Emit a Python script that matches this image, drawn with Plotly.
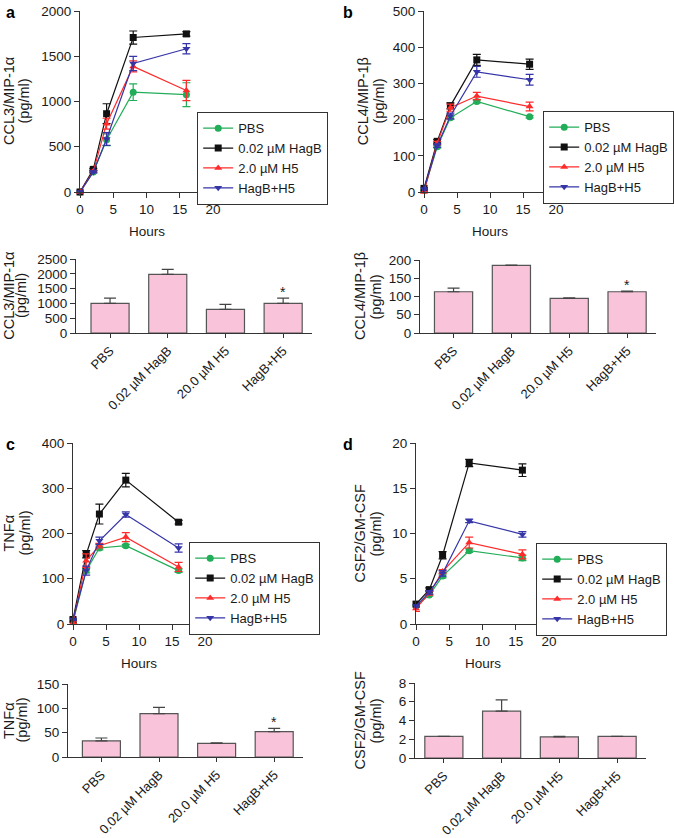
import plotly.graph_objects as go

W, H = 674, 838
hours = [0, 2, 4, 8, 16]
series_names = ["PBS", "0.02 µM HagB", "2.0 µM H5", "HagB+H5"]
bar_labels = ["PBS", "0.02 µM HagB", "20.0 µM H5", "HagB+H5"]

# panel a: CCL3/MIP-1α
a_pbs = [0, 220, 578, 1103, 1075]
a_pbs_err = [0, 10, 65, 92, 132]
a_hagb = [0, 250, 865, 1707, 1747]
a_hagb_err = [0, 10, 110, 72, 25]
a_h5 = [0, 228, 755, 1388, 1122]
a_h5_err = [0, 10, 60, 60, 112]
a_combo = [0, 222, 585, 1420, 1583]
a_combo_err = [0, 10, 70, 78, 57]
a_bar = [1000, 1980, 800, 1000]
a_bar_err = [180, 170, 170, 180]

# panel b: CCL4/MIP-1β
b_pbs = [5, 125, 205, 250, 208]
b_pbs_err = [2, 3, 4, 4, 3]
b_hagb = [10, 140, 238, 365, 353]
b_hagb_err = [2, 5, 8, 15, 14]
b_h5 = [0, 135, 233, 265, 236]
b_h5_err = [2, 5, 10, 10, 12]
b_combo = [8, 128, 210, 332, 310]
b_combo_err = [2, 5, 8, 15, 15]
b_bar = [113, 185, 95, 113]
b_bar_err = [10, 1, 1, 2]

# panel c: TNFα
c_pbs = [5, 118, 168, 173, 118]
c_pbs_err = [2, 5, 4, 3, 4]
c_hagb = [10, 154, 243, 318, 225]
c_hagb_err = [2, 8, 22, 15, 4]
c_h5 = [3, 140, 173, 192, 126]
c_h5_err = [2, 15, 5, 10, 10]
c_combo = [10, 118, 184, 242, 168]
c_combo_err = [2, 10, 8, 6, 9]
c_bar = [33, 89, 28, 52]
c_bar_err = [6, 13, 1, 7]

# panel d: CSF2/GM-CSF
d_pbs = [2.0, 3.2, 5.3, 8.1, 7.3]
d_pbs_err = [0.1, 0.1, 0.2, 0.2, 0.3]
d_hagb = [2.2, 3.8, 7.6, 17.8, 17.0]
d_hagb_err = [0.1, 0.2, 0.4, 0.4, 0.7]
d_h5 = [1.7, 3.4, 5.8, 9.0, 7.7]
d_h5_err = [0.3, 0.2, 0.2, 0.6, 0.5]
d_combo = [2.0, 3.5, 5.6, 11.4, 9.9]
d_combo_err = [0.1, 0.2, 0.3, 0.2, 0.3]
d_bar = [2.3, 5.0, 2.25, 2.3]
d_bar_err = [0, 1.2, 0.05, 0]

colors = ["#22ad58", "#111111", "#ff2b2b", "#3535a8"]
symbols = ["circle", "square", "triangle-up", "triangle-down"]
FONT = "Liberation Sans, Arial, sans-serif"

panels = [
    dict(letter="a", ytitle=["CCL3/MIP-1α", "(pg/ml)"],
         lines=[(a_pbs, a_pbs_err), (a_hagb, a_hagb_err), (a_h5, a_h5_err), (a_combo, a_combo_err)],
         yr=[0, 2000], dt=500, bar=a_bar, bar_err=a_bar_err, byr=[0, 2500], bdt=500, star=True,
         line_px=(80, 213, 11, 192), bar_px=(76, 312, 259, 333), bar_start=-0.59,
         leg=(197, 112), ytx=(9.5, 24), bytx=(8.7, 21), letter_xy=(4, 2)),
    dict(letter="b", ytitle=["CCL4/MIP-1β", "(pg/ml)"],
         lines=[(b_pbs, b_pbs_err), (b_hagb, b_hagb_err), (b_h5, b_h5_err), (b_combo, b_combo_err)],
         yr=[0, 500], dt=100, bar=b_bar, bar_err=b_bar_err, byr=[0, 200], bdt=50, star=True,
         line_px=(424, 556, 11, 192), bar_px=(420, 656, 260, 333), bar_start=-0.58,
         leg=(543, 111), ytx=(363.7, 379), bytx=(359.5, 375), letter_xy=(341, 2)),
    dict(letter="c", ytitle=["TNFα", "(pg/ml)"],
         lines=[(c_pbs, c_pbs_err), (c_hagb, c_hagb_err), (c_h5, c_h5_err), (c_combo, c_combo_err)],
         yr=[0, 400], dt=100, bar=c_bar, bar_err=c_bar_err, byr=[0, 150], bdt=50, star=True,
         line_px=(73, 205, 443, 624), bar_px=(68, 303, 684, 757), bar_start=-0.58,
         leg=(189, 542), ytx=(8, 24), bytx=(8.5, 21), letter_xy=(4, 434)),
    dict(letter="d", ytitle=["CSF2/GM-CSF", "(pg/ml)"],
         lines=[(d_pbs, d_pbs_err), (d_hagb, d_hagb_err), (d_h5, d_h5_err), (d_combo, d_combo_err)],
         yr=[0, 20], dt=5, bar=d_bar, bar_err=d_bar_err, byr=[0, 8], bdt=2, star=False,
         line_px=(416, 549, 443, 624), bar_px=(415, 646, 683, 758), bar_start=-0.5,
         leg=(536, 543), ytx=(359, 375), bytx=(359, 375), letter_xy=(341, 434)),
]

fig = go.Figure()
layout = dict(width=W, height=H, margin=dict(l=0, r=0, t=0, b=0, autoexpand=False),
              paper_bgcolor="white", plot_bgcolor="white",
              font=dict(family=FONT, size=13, color="#1a1a1a"),
              showlegend=True, annotations=[])

def fx(px):
    return px / W

def fy(py):
    return 1 - py / H

axis_common = dict(showline=True, linecolor="#333", linewidth=1.2, ticks="outside",
                   ticklen=5, tickcolor="#333", tickwidth=1.2, showgrid=False, zeroline=False,
                   automargin=False,
                   tickfont=dict(family=FONT, size=13.5, color="#1a1a1a"))

def ytitle_annots(lines, xs, yc):
    out = []
    for txt, xc in zip(lines, xs):
        out.append(dict(text=txt, xref="paper", yref="paper", x=fx(xc), y=fy(yc),
                        textangle=-90, xanchor="center", yanchor="middle", showarrow=False,
                        font=dict(family=FONT, size=14.5)))
    return out

for i, p in enumerate(panels):
    ln = 2 * i + 1
    bn = 2 * i + 2
    legname = "legend" if i == 0 else f"legend{i+1}"
    x0, x1, y0, y1 = p["line_px"]
    layout[f"xaxis{ln}"] = dict(axis_common, domain=[fx(x0), fx(x1)], range=[0, 20], dtick=5,
                                anchor=f"y{ln}")
    layout[f"yaxis{ln}"] = dict(axis_common, domain=[fy(y1), fy(y0)], range=p["yr"], dtick=p["dt"],
                                anchor=f"x{ln}")
    for k, (vals, errs) in enumerate(p["lines"]):
        fig.add_trace(go.Scatter(
            x=hours, y=vals, name=series_names[k], mode="lines+markers",
            line=dict(color=colors[k], width=1.2),
            marker=dict(symbol=symbols[k], size=7, color=colors[k]),
            error_y=dict(type="data", array=errs, color=colors[k], thickness=1.2, width=4),
            xaxis=f"x{ln}", yaxis=f"y{ln}", cliponaxis=False, legend=legname))
    lx, ly = p["leg"]
    layout[legname] = dict(x=fx(lx), y=fy(ly), xanchor="left", yanchor="top",
                           bordercolor="#333", borderwidth=1.2, bgcolor="white",
                           font=dict(family=FONT, size=13, color="#1a1a1a"),
                           tracegroupgap=0, itemwidth=30)
    layout["annotations"].append(dict(text="Hours", xref="paper", yref="paper",
                                      x=fx((x0 + x1) / 2), y=fy(y1 + 39), xanchor="center",
                                      yanchor="middle", showarrow=False,
                                      font=dict(family=FONT, size=13.5)))
    layout["annotations"].extend(ytitle_annots(p["ytitle"], p["ytx"], (y0 + y1) / 2))
    layout["annotations"].append(dict(text=f"<b>{p['letter']}</b>", xref="paper", yref="paper",
                                      x=fx(p["letter_xy"][0]), y=fy(p["letter_xy"][1]),
                                      xanchor="left", yanchor="top", showarrow=False,
                                      font=dict(family=FONT, size=16, color="black")))
    bx0, bx1, by0, by1 = p["bar_px"]
    layout[f"xaxis{bn}"] = dict(axis_common, domain=[fx(bx0), fx(bx1)],
                                range=[p["bar_start"], 3.5], tickangle=-45, ticklen=4,
                                tickmode="array", tickvals=[0, 1, 2, 3], ticktext=bar_labels,
                                tickfont=dict(family=FONT, size=13, color="#1a1a1a"),
                                anchor=f"y{bn}")
    layout[f"yaxis{bn}"] = dict(axis_common, domain=[fy(by1), fy(by0)], range=p["byr"],
                                dtick=p["bdt"], anchor=f"x{bn}")
    fig.add_trace(go.Bar(
        x=[0, 1, 2, 3], y=p["bar"], width=0.66, showlegend=False,
        marker=dict(color="#f9c3d9", line=dict(color="#555", width=1.2)),
        error_y=dict(type="data", array=p["bar_err"], arrayminus=[0, 0, 0, 0],
                     color="#444", thickness=1.2, width=6),
        xaxis=f"x{bn}", yaxis=f"y{bn}"))
    layout["annotations"].extend(ytitle_annots(p["ytitle"], p["bytx"], (by0 + by1) / 2))
    if p["star"]:
        layout["annotations"].append(dict(text="*", xref=f"x{bn}", yref=f"y{bn}",
                                          x=3, y=p["bar"][3] + p["bar_err"][3],
                                          xanchor="center", yanchor="bottom", yshift=-4,
                                          showarrow=False, font=dict(family=FONT, size=14)))

fig.update_layout(**layout)
fig.write_html("out.html", config={"displayModeBar": False},
               post_script="document.body.style.margin='0';document.body.style.overflow='hidden';")
